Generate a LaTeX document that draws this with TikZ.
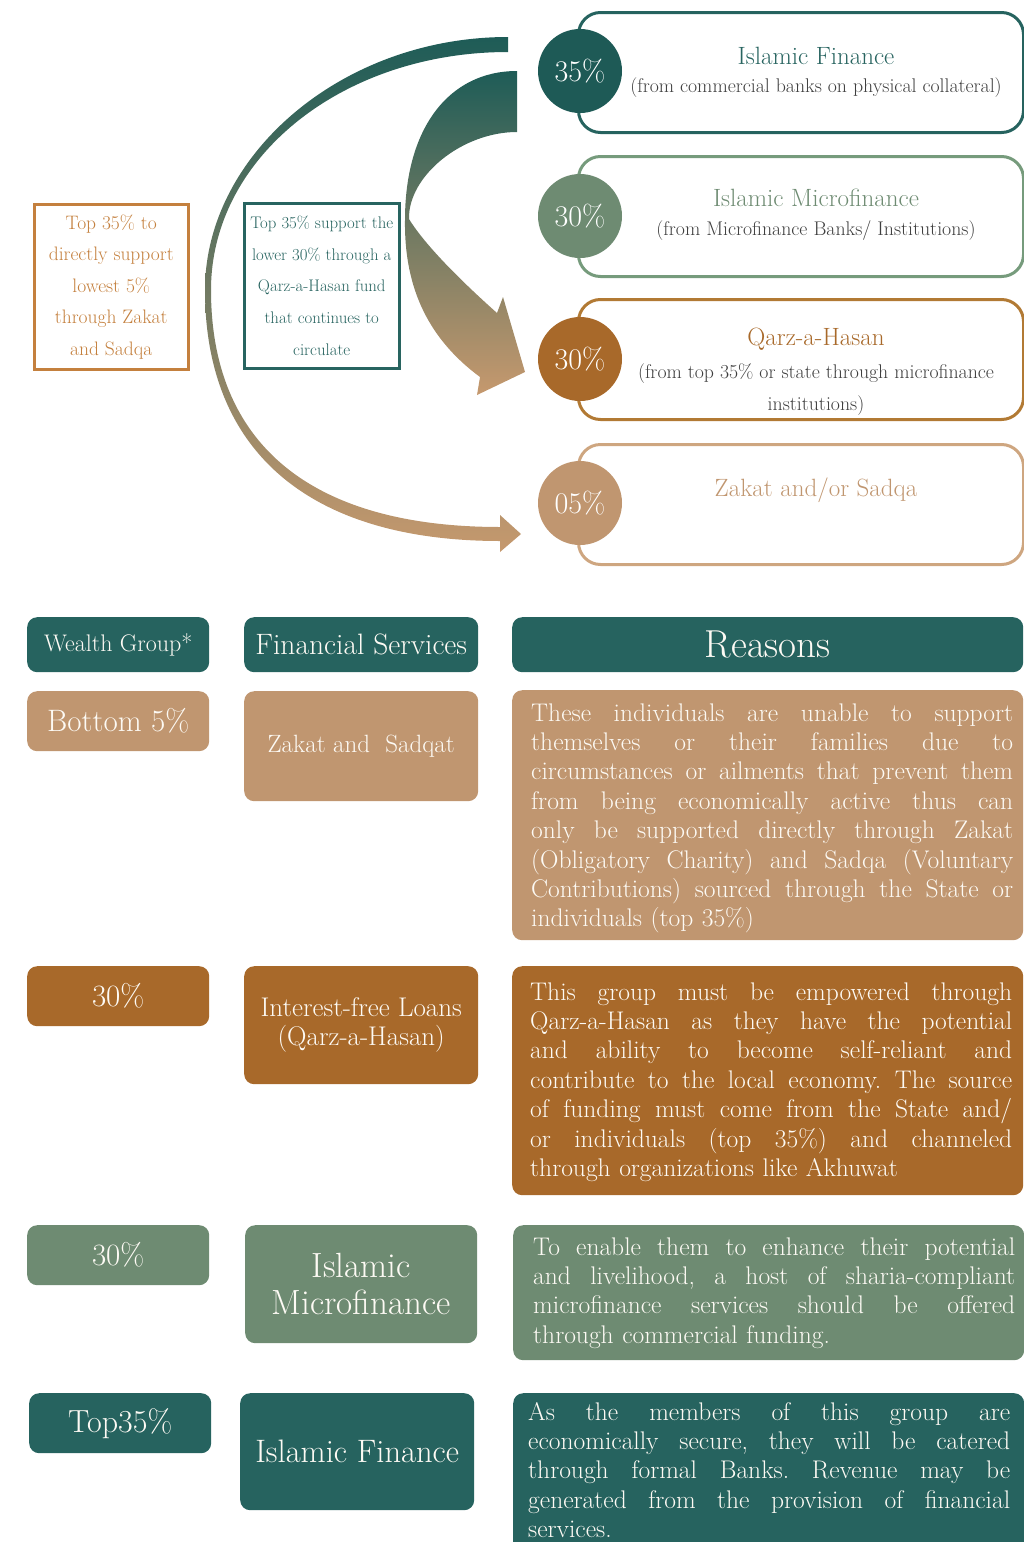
\documentclass[tikz,border=0pt]{standalone}
\usepackage{fontspec}
\definecolor{tealdk}{RGB}{30,90,86}
\definecolor{tealhd}{RGB}{38,99,95}
\definecolor{tealtx}{RGB}{40,100,96}
\definecolor{sage}{RGB}{110,139,114}
\definecolor{sageln}{RGB}{118,155,124}
\definecolor{brownc}{RGB}{168,105,42}
\definecolor{brownln}{RGB}{178,122,52}
\definecolor{tanc}{RGB}{192,150,112}
\definecolor{tanln}{RGB}{206,166,128}
\definecolor{orangeln}{RGB}{196,128,62}
\definecolor{subgray}{RGB}{62,62,62}
\definecolor{offwhite}{RGB}{253,250,244}
\definecolor{arcteal}{RGB}{30,92,87}
\definecolor{arctan}{RGB}{198,153,110}
% one fully justified line of the reason paragraphs
\newcommand\jline[1]{{\spaceskip=0pt\xspaceskip=0pt\makebox[482pt][s]{#1}}}
\newcommand\fsz[2]{\fontsize{#1}{#2}\selectfont}
\begin{document}
\begin{tikzpicture}[x=1pt,y=-1pt,
  topbox/.style={draw, line width=3pt, rounded corners=22pt, minimum width=445pt,
    minimum height=120pt, anchor=north west, inner sep=0pt},
  pct/.style={circle, minimum size=84pt, inner sep=0pt, text=white, font=\fsz{30}{32}},
  ttl/.style={font=\fsz{25}{28}, inner sep=0pt},
  sub/.style={font=\fsz{19.8}{32}, text=subgray, inner sep=0pt, align=center},
  note/.style={draw, line width=2.5pt, anchor=north west, inner sep=0pt, align=center,
    minimum width=154pt, minimum height=165pt},
  cell/.style={rounded corners=10pt, inner sep=0pt, anchor=north west, text=offwhite,
    align=center},
  reason/.style={anchor=base west, text width=482pt, inner sep=0pt, align=left,
    text=offwhite, font=\fsz{25.5}{29.4}\frenchspacing}]
\useasboundingbox (0,0) rectangle (1024,1542);
\clip (0,0) rectangle (1024,1542);

% ---- flow arrows ----
\shade[top color=arcteal, bottom color=arctan]
  (508,37) .. controls (342,37) and (205,155) .. (205,290)
  .. controls (205,452) and (310,541) .. (500,541)
  -- (500,552) -- (521,534) -- (500,515) -- (500,527)
  .. controls (312,527) and (211,445) .. (211,290)
  .. controls (211,157) and (343,52) .. (508,52) -- cycle;
\shade[top color=arcteal, bottom color=arctan]
  (517,71) .. controls (449,71) and (405,128) .. (405,220)
  .. controls (404,290) and (430,340) .. (480,377)
  -- (477,395) -- (525,372) -- (503,297) -- (497,313)
  .. controls (460,280) and (425,245) .. (409,219)
  .. controls (408,176) and (462,132) .. (517,132) -- cycle;

% ---- side notes ----
\node[note, draw=orangeln, text=orangeln, font=\fsz{19.5}{31.5}] (noteA) at (33,203)
  {Top 35\% to\\directly support\\lowest 5\%\\through Zakat\\and Sadqa};
\node[note, draw=tealtx, text=tealtx, font=\fsz{16.8}{31.7}, minimum width=155pt] (noteB) at (243,202)
  {Top 35\% support the\\lower 30\% through a\\Qarz-a-Hasan fund\\that continues to\\circulate};

% ---- service boxes ----
\node[topbox, draw=tealhd] (b1) at (577,11) {};
\node[topbox, draw=sageln] (b2) at (577,155) {};
\node[topbox, draw=brownln] (b3) at (577,298) {};
\node[topbox, draw=tanln] (b4) at (577,443) {};

\node[pct, fill=tealdk] (c1) at (580,71) {35\%};
\node[pct, fill=sage] (c2) at (580,216) {30\%};
\node[pct, fill=brownc] (c3) at (580,359) {30\%};
\node[pct, fill=tanc] (c4) at (580,503) {05\%};

\node[ttl, text=tealtx] (t1) at (816,56) {Islamic Finance};
\node[sub] (s1) at (816,88) {(from commercial banks on physical collateral)};
\node[ttl, text=sage] (t2) at (816,198) {Islamic Microfinance};
\node[sub] (s2) at (816,231) {(from Microfinance Banks/ Institutions)};
\node[ttl, text=brownc] (t3) at (816,339) {Qarz-a-Hasan};
\node[sub, anchor=base] (s3) at (816,410) {(from top 35\% or state through microfinance\\institutions)};
\node[ttl, text=tanc] (t4) at (816,490) {Zakat and/or Sadqa};

% ---- table ----
\node[cell, fill=tealhd, minimum width=182pt, minimum height=55pt, font=\fsz{24}{26}] (h1) at (27,617) {Wealth Group*};
\node[cell, fill=tealhd, minimum width=234pt, minimum height=55pt, font=\fsz{29.5}{32}] (h2) at (244,617) {Financial Services};
\node[cell, fill=tealhd, minimum width=511pt, minimum height=55pt, font=\fsz{39}{42}] (h3) at (512,617) {Reasons};

\node[cell, fill=tanc, minimum width=182pt, minimum height=60pt, font=\fsz{31}{33}] (g1) at (27,691) {Bottom 5\%};
\node[cell, fill=tanc, minimum width=234pt, minimum height=110pt, font=\fsz{25}{28}] (f1) at (244,691) {Zakat and\ \ Sadqat};
\node[cell, fill=tanc, minimum width=511pt, minimum height=250pt] (r1) at (512,690) {};

\node[cell, fill=brownc, minimum width=182pt, minimum height=60pt, font=\fsz{31}{33}] (g2) at (27,966) {30\%};
\node[cell, fill=brownc, minimum width=234pt, minimum height=118pt, font=\fsz{27}{29}] (f2) at (244,966) {Interest-free Loans\\(Qarz-a-Hasan)};
\node[cell, fill=brownc, minimum width=511pt, minimum height=229pt] (r2) at (512,966) {};

\node[cell, fill=sage, minimum width=182pt, minimum height=60pt, font=\fsz{31}{33}] (g3) at (27,1225) {30\%};
\node[cell, fill=sage, minimum width=232pt, minimum height=118pt, font=\fsz{35}{37}] (f3) at (245,1225) {Islamic\\Microfinance};
\node[cell, fill=sage, minimum width=511pt, minimum height=135pt] (r3) at (513,1225) {};

\node[cell, fill=tealhd, minimum width=182pt, minimum height=60pt, font=\fsz{32}{34}] (g4) at (29,1393) {Top35\%};
\node[cell, fill=tealhd, minimum width=234pt, minimum height=117pt, font=\fsz{32.5}{34}] (f4) at (240,1393) {Islamic Finance};
\node[cell, fill=tealhd, minimum width=511pt, minimum height=170pt] (r4) at (513,1393) {};

\node[reason] (r1t) at (531,721) {%
  \jline{These individuals are unable to support}\\
  \jline{themselves or their families due to}\\
  \jline{circumstances or ailments that prevent them}\\
  \jline{from being economically active thus can}\\
  \jline{only be supported directly through Zakat}\\
  \jline{(Obligatory Charity) and Sadqa (Voluntary}\\
  \jline{Contributions) sourced through the State or}\\
  individuals (top 35\%)};
\node[reason] (r2t) at (530,1000) {%
  \jline{This group must be empowered through}\\
  \jline{Qarz-a-Hasan as they have the potential}\\
  \jline{and ability to become self-reliant and}\\
  \jline{contribute to the local economy. The source}\\
  \jline{of funding must come from the State and/}\\
  \jline{or individuals (top 35\%) and channeled}\\
  through organizations like Akhuwat};
\node[reason] (r3t) at (533,1255) {%
  \jline{To enable them to enhance their potential}\\
  \jline{and livelihood, a host of sharia-compliant}\\
  \jline{microfinance services should be offered}\\
  through commercial funding.};
\node[reason] (r4t) at (528,1420) {%
  \jline{As the members of this group are}\\
  \jline{economically secure, they will be catered}\\
  \jline{through formal Banks. Revenue may be}\\
  \jline{generated from the provision of financial}\\
  services.};
\end{tikzpicture}
\end{document}
